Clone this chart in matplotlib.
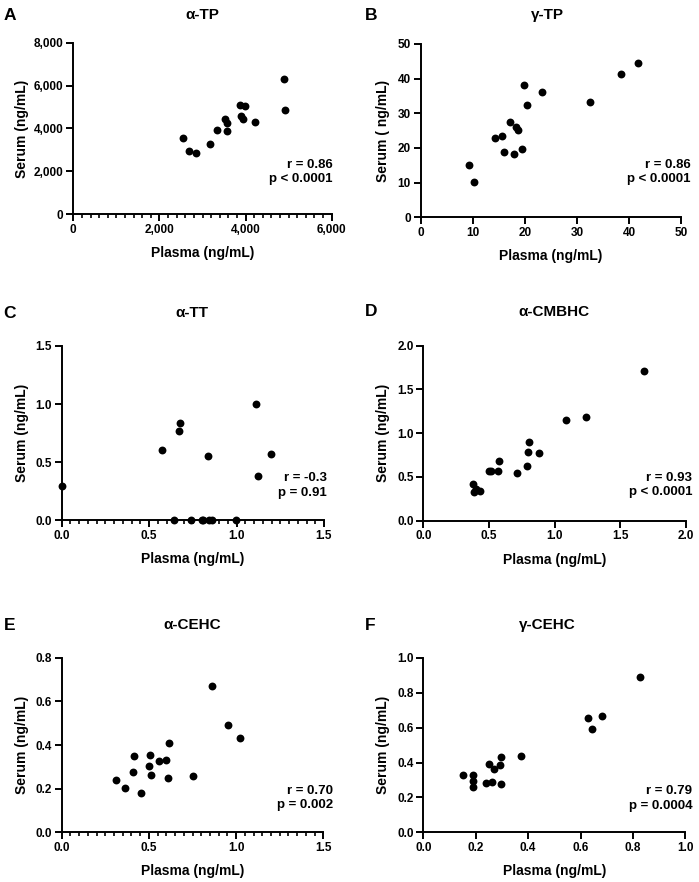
import matplotlib
matplotlib.use('Agg')
import matplotlib.pyplot as plt
from matplotlib.ticker import MultipleLocator, FuncFormatter

plt.rcParams['font.family'] = ['Liberation Sans', 'DejaVu Sans']
plt.rcParams['font.weight'] = 'bold'
plt.rcParams['axes.labelweight'] = 'bold'

W, H = 699, 882

# ---- datos ----
atp_plasma = [2547, 2686, 2841, 3174, 3329, 3515, 3561, 3569, 3871, 3887, 3949, 3987, 4212, 4885, 4924]
atp_serum = [3557, 2936, 2858, 3293, 3930, 4427, 4272, 3883, 5095, 4582, 4443, 5049, 4318, 6307, 4862]

gtp_plasma = [9.35, 10.2, 14.3, 15.6, 16.0, 17.2, 18.0, 18.4, 18.6, 19.5, 19.9, 20.4, 23.3, 32.5, 38.5, 41.7]
gtp_serum = [15.1, 10.3, 22.9, 23.6, 18.7, 27.4, 18.4, 26.1, 25.2, 19.6, 38.1, 32.4, 36.1, 33.3, 41.3, 44.6]

att_plasma = [0.0, 0.574, 0.640, 0.671, 0.677, 0.741, 0.80, 0.81, 0.844, 0.86, 0.835, 0.999, 1.109, 1.125, 1.199]
att_serum = [0.293, 0.605, 0.0, 0.766, 0.837, 0.0, 0.0, 0.0, 0.0, 0.0, 0.556, 0.0, 1.004, 0.381, 0.568]

acmbhc_plasma = [0.379, 0.386, 0.40, 0.432, 0.50, 0.516, 0.569, 0.577, 0.717, 0.793, 0.80, 0.803, 0.879, 1.09, 1.238, 1.682]
acmbhc_serum = [0.423, 0.324, 0.362, 0.339, 0.571, 0.568, 0.571, 0.682, 0.541, 0.629, 0.789, 0.903, 0.773, 1.150, 1.185, 1.707]

acehc_plasma = [0.311, 0.365, 0.407, 0.415, 0.457, 0.499, 0.508, 0.512, 0.558, 0.598, 0.608, 0.613, 0.751, 0.86, 0.952, 1.022]
acehc_serum = [0.241, 0.205, 0.278, 0.348, 0.182, 0.302, 0.354, 0.261, 0.325, 0.333, 0.247, 0.408, 0.256, 0.669, 0.492, 0.432]

gcehc_plasma = [0.150, 0.191, 0.188, 0.190, 0.239, 0.249, 0.263, 0.271, 0.293, 0.298, 0.298, 0.372, 0.628, 0.645, 0.681, 0.826]
gcehc_serum = [0.327, 0.329, 0.296, 0.262, 0.281, 0.392, 0.289, 0.365, 0.386, 0.430, 0.275, 0.440, 0.656, 0.593, 0.667, 0.891]

letras = ['A', 'B', 'C', 'D', 'E', 'F']
titulos = ['α-TP', 'γ-TP', 'α-TT', 'α-CMBHC', 'α-CEHC', 'γ-CEHC']
etiquetas_y = ['Serum (ng/mL)', 'Serum ( ng/mL)', 'Serum (ng/mL)', 'Serum (ng/mL)', 'Serum (ng/mL)', 'Serum (ng/mL)']
estadisticos = ['r = 0.86\np < 0.0001', 'r = 0.86\np < 0.0001', 'r = -0.3\np = 0.91',
                'r = 0.93\np < 0.0001', 'r = 0.70\np = 0.002', 'r = 0.79\np = 0.0004']

datos = [(atp_plasma, atp_serum), (gtp_plasma, gtp_serum), (att_plasma, att_serum),
         (acmbhc_plasma, acmbhc_serum), (acehc_plasma, acehc_serum), (gcehc_plasma, gcehc_serum)]

# (izq, der, arriba, abajo) en pixeles
cajas = [(73.3, 331.7, 42.7, 214.3), (420.7, 681.0, 44.0, 217.3),
         (61.7, 324.0, 346.0, 520.3), (423.3, 685.7, 345.7, 520.7),
         (61.7, 323.3, 657.7, 832.3), (423.3, 685.3, 658.0, 832.3)]
limites = [(6000, 8000, 2000, 2000, 200), (50, 50, 10, 10, None), (1.5, 1.5, 0.5, 0.5, 0.05),
           (2.0, 2.0, 0.5, 0.5, None), (1.5, 0.8, 0.5, 0.2, 0.05), (1.0, 1.0, 0.2, 0.2, None)]
pos_letra = [(10, 15), (370.7, 15), (10, 313), (370.7, 312), (10, 625), (370, 625)]
pos_titulo = [(202, 15), (547, 15), (192, 313), (554, 312), (192, 625), (547, 625)]
pos_texto = [(1.005, 0.247), (1.037, 0.26), (1.01, 0.199), (1.025, 0.206), (1.038, 0.195), (1.027, 0.194)]
ylab_x = [-0.20, -0.144, -0.153, -0.152, -0.153, -0.153]

fig = plt.figure(figsize=(W / 100, H / 100), dpi=100)

for i in range(6):
    izq, der, arr, aba = cajas[i]
    ax = fig.add_axes([izq / W, 1 - aba / H, (der - izq) / W, (aba - arr) / H])
    x, y = datos[i]
    ax.scatter(x, y, s=32, color='black', clip_on=False, zorder=5, linewidths=0)

    xmax, ymax, xstep, ystep, xminor = limites[i]
    ax.set_xlim(0, xmax)
    ax.set_ylim(0, ymax)
    ax.xaxis.set_major_locator(MultipleLocator(xstep))
    ax.yaxis.set_major_locator(MultipleLocator(ystep))
    if xminor:
        ax.xaxis.set_minor_locator(MultipleLocator(xminor))
    if i == 0:
        ax.xaxis.set_major_formatter(FuncFormatter(lambda v, p: f'{v:,.0f}'))
        ax.yaxis.set_major_formatter(FuncFormatter(lambda v, p: f'{v:,.0f}'))
    elif i == 1:
        ax.xaxis.set_major_formatter(FuncFormatter(lambda v, p: f'{v:.0f}'))
        ax.yaxis.set_major_formatter(FuncFormatter(lambda v, p: f'{v:.0f}'))
    else:
        ax.xaxis.set_major_formatter(FuncFormatter(lambda v, p: f'{v:.1f}'))
        ax.yaxis.set_major_formatter(FuncFormatter(lambda v, p: f'{v:.1f}'))

    for lado in ['top', 'right']:
        ax.spines[lado].set_visible(False)
    for lado in ['left', 'bottom']:
        ax.spines[lado].set_linewidth(1.4)
    ax.tick_params(which='major', length=5, width=1.4, labelsize=8.5, pad=2)
    ax.tick_params(which='minor', length=3, width=1.2)
    for lab in ax.get_xticklabels() + ax.get_yticklabels():
        lab.set_fontweight('bold')

    ax.set_xlabel('Plasma (ng/mL)', fontsize=10, fontweight='bold')
    ax.set_ylabel(etiquetas_y[i], fontsize=10, fontweight='bold')
    alto = aba - arr
    ax.xaxis.set_label_coords(0.5, -39 / alto)
    ax.xaxis.label.set_va('center')
    ax.yaxis.set_label_coords(ylab_x[i], 0.5)
    ax.yaxis.label.set_va('center')

    tx, ty = pos_texto[i]
    ax.text(tx, ty, estadisticos[i], transform=ax.transAxes, ha='right', va='center',
            multialignment='right', fontsize=9.5, fontweight='bold', linespacing=1.25)

    lx, ly = pos_letra[i]
    fig.text(lx / W, 1 - ly / H, letras[i], ha='center', va='center', fontsize=12.5, fontweight='bold')
    tx2, ty2 = pos_titulo[i]
    fig.text(tx2 / W, 1 - ty2 / H, titulos[i], ha='center', va='center', fontsize=11, fontweight='bold')

fig.savefig('out.png', dpi=100)
